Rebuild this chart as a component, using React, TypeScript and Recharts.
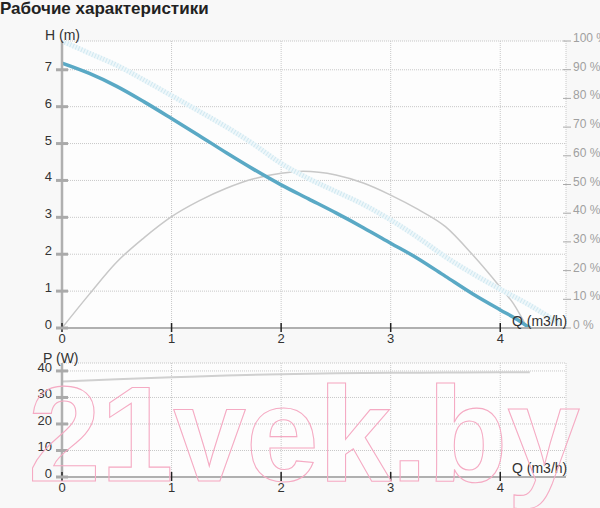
import { ComposedChart, Line, XAxis, YAxis, CartesianGrid } from 'recharts';

const FONT = 'Arial, "Liberation Sans", sans-serif';

// axis ticks
const flowTicks = [0, 1, 2, 3, 4];
const headTicks = [0, 1, 2, 3, 4, 5, 6, 7];
const effTicks = [0, 10, 20, 30, 40, 50, 60, 70, 80, 90, 100];
const powerTicks = [0, 10, 20, 30, 40];

// H(Q) working curve, m
const headQ = [0, 0.25, 0.5, 0.75, 1, 1.25, 1.5, 1.75, 2, 2.25, 2.5, 2.75, 3, 3.25, 3.5, 3.75, 4, 4.15, 4.27];
const headH = [7.18, 6.9, 6.55, 6.13, 5.68, 5.22, 4.75, 4.3, 3.88, 3.5, 3.12, 2.72, 2.3, 1.88, 1.4, 0.92, 0.49, 0.24, 0];

// max curve (light dotted band), m
const maxQ = [0, 0.25, 0.5, 0.75, 1, 1.25, 1.5, 1.75, 2, 2.25, 2.5, 2.75, 3, 3.25, 3.5, 3.75, 4, 4.25, 4.55];
const maxH = [7.78, 7.45, 7.12, 6.72, 6.3, 5.88, 5.45, 4.98, 4.46, 4.05, 3.7, 3.35, 2.93, 2.45, 1.93, 1.47, 1.05, 0.65, 0.1];

// efficiency, %
const effQ = [0, 0.25, 0.5, 0.75, 1, 1.25, 1.5, 1.75, 2, 2.2, 2.5, 2.75, 3, 3.25, 3.5, 3.75, 4, 4.12, 4.24];
const effV = [0, 11.8, 23, 31.5, 38.8, 44.3, 48.7, 52, 53.9, 54.6, 53.3, 50.5, 46.3, 41.3, 35.3, 25.4, 14.2, 8.5, 0.5];

// power, W
const powerQ = [0, 0.5, 1, 1.5, 2, 2.5, 3, 3.5, 4, 4.27];
const powerP = [36, 36.9, 37.6, 38.3, 38.8, 39.1, 39.3, 39.4, 39.5, 39.5];

const zip = (qs: number[], vs: number[]) => qs.map((q, i) => ({ q, v: vs[i] }));

const headData = zip(headQ, headH);
const maxData = zip(maxQ, maxH);
const effData = zip(effQ, effV);
const powerData = zip(powerQ, powerP);

function FlowTick(props: any) {
  const { x, y, payload } = props;
  return (
    <g>
      <line x1={x} x2={x} y1={y - 5} y2={y + 4} stroke="#222" strokeWidth={1.5} />
      <text x={x} y={y + 15} textAnchor="middle" fontSize={13} fill="#333" fontFamily={FONT}>
        {payload.value}
      </text>
    </g>
  );
}

function LeftTick(props: any) {
  const { x, y, payload } = props;
  return (
    <g>
      <line x1={x - 6} x2={x + 6} y1={y} y2={y} stroke="#aaa" strokeWidth={3} />
      <text x={x - 10} y={y + 1} textAnchor="end" fontSize={13} fill="#333" fontFamily={FONT}>
        {payload.value}
      </text>
    </g>
  );
}

function RightTick(props: any) {
  const { x, y, payload } = props;
  return (
    <g>
      <line x1={x - 3} x2={x + 5} y1={y} y2={y} stroke="#aaa" strokeWidth={1} />
      <text x={x + 7} y={y + 1} textAnchor="start" fontSize={12} fill="#a0a0a0" fontFamily={FONT}>
        {payload.value} %
      </text>
    </g>
  );
}

export default function App() {
  return (
    <div style={{ position: 'absolute', left: 0, top: 0, width: 600, height: 508, background: '#f8f8f8', overflow: 'hidden' }}>
      <div style={{ position: 'absolute', left: 0, top: 0 }}>
        <ComposedChart width={600} height={345} margin={{ top: 41, right: 0, bottom: 0, left: 0 }}>
          <CartesianGrid yAxisId="h" stroke="#c8c8c8" strokeDasharray="1 1" fill="#fdfdfd" />
          <XAxis
            type="number"
            dataKey="q"
            domain={[0, 4.6]}
            ticks={flowTicks}
            allowDataOverflow
            height={17}
            tickSize={0}
            tickMargin={0}
            tickLine={false}
            axisLine={{ stroke: '#b0b0b0', strokeWidth: 2 }}
            tick={FlowTick}
          />
          <YAxis
            yAxisId="h"
            domain={[0, 7.78]}
            ticks={headTicks}
            allowDataOverflow
            width={62}
            tickSize={0}
            tickMargin={0}
            tickLine={false}
            axisLine={{ stroke: '#b0b0b0', strokeWidth: 2.5 }}
            tick={LeftTick}
          />
          <YAxis
            yAxisId="e"
            orientation="right"
            domain={[0, 100]}
            ticks={effTicks}
            allowDataOverflow
            width={34}
            tickSize={0}
            tickMargin={0}
            tickLine={false}
            axisLine={false}
            tick={RightTick}
          />
          <Line yAxisId="e" data={effData} dataKey="v" type="monotone" stroke="#c8c8c8" strokeWidth={1.5} dot={false} isAnimationActive={false} />
          <Line yAxisId="h" data={maxData} dataKey="v" type="monotone" stroke="#eef7fa" strokeWidth={5} dot={false} isAnimationActive={false} />
          <Line yAxisId="h" data={maxData} dataKey="v" type="monotone" stroke="#d0e8f1" strokeWidth={5} strokeDasharray="1 2" dot={false} isAnimationActive={false} />
          <Line yAxisId="h" data={headData} dataKey="v" type="monotone" stroke="#5aa9c5" strokeWidth={3.5} dot={false} isAnimationActive={false} />
        </ComposedChart>
      </div>
      <div style={{ position: 'absolute', left: 0, top: 345 }}>
        <ComposedChart width={600} height={163} margin={{ top: 18, right: 34, bottom: 0, left: 0 }}>
          <CartesianGrid yAxisId="p" stroke="#c8c8c8" strokeDasharray="1 1" fill="#fdfdfd" />
          <XAxis
            type="number"
            dataKey="q"
            domain={[0, 4.6]}
            ticks={flowTicks}
            allowDataOverflow
            height={31}
            tickSize={0}
            tickMargin={0}
            tickLine={false}
            axisLine={{ stroke: '#b0b0b0', strokeWidth: 2 }}
            tick={FlowTick}
          />
          <YAxis
            yAxisId="p"
            domain={[0, 43]}
            ticks={powerTicks}
            allowDataOverflow
            width={62}
            tickSize={0}
            tickMargin={0}
            tickLine={false}
            axisLine={{ stroke: '#b0b0b0', strokeWidth: 2.5 }}
            tick={LeftTick}
          />
          <Line yAxisId="p" data={powerData} dataKey="v" type="monotone" stroke="#d0d0d0" strokeWidth={2} dot={false} isAnimationActive={false} />
        </ComposedChart>
      </div>
      <svg width={600} height={508} style={{ position: 'absolute', left: 0, top: 0, pointerEvents: 'none' }}>
        <text x={0} y={14} fontSize={17} fontWeight="bold" fill="#222" fontFamily={FONT}>
          Рабочие характеристики
        </text>
        <text x={45} y={40} fontSize={14} fill="#333" fontFamily={FONT}>H (m)</text>
        <text x={512} y={326} fontSize={14} fill="#333" fontFamily={FONT}>Q (m3/h)</text>
        <text x={43} y={363} fontSize={14} fill="#333" fontFamily={FONT}>P (W)</text>
        <text x={512} y={473} fontSize={14} fill="#333" fontFamily={FONT}>Q (m3/h)</text>
        <text x={28} y={481} fontSize={136} textLength={552} lengthAdjust="spacingAndGlyphs" fontWeight="bold" fill="none" stroke="#f5aac3" strokeWidth={1.1} fontFamily={FONT}>
          21vek.by
        </text>
      </svg>
    </div>
  );
}
